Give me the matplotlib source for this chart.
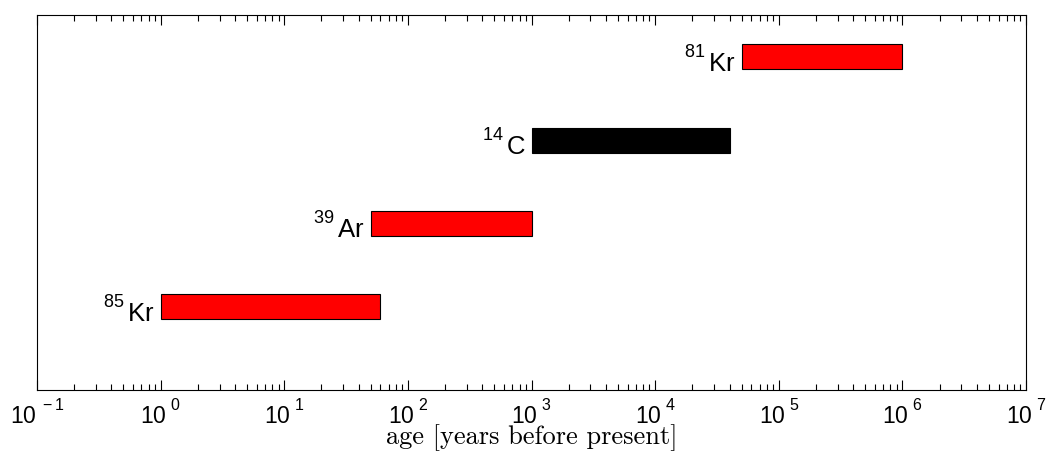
import matplotlib
matplotlib.use("Agg")
import matplotlib.pyplot as plt
from matplotlib.ticker import LogLocator, FixedLocator, NullFormatter
import numpy as np

try:
    import matplotlib._mathtext as _mt
    _mt.FontConstantsBase.sup1 = 1.0
except Exception:
    pass

plt.rcParams['font.family'] = ['Liberation Sans', 'DejaVu Sans']
plt.rcParams['mathtext.fontset'] = 'custom'
plt.rcParams['mathtext.rm'] = 'Liberation Sans'
plt.rcParams['mathtext.it'] = 'Liberation Sans:italic'
plt.rcParams['mathtext.bf'] = 'Liberation Sans:bold'

# Data
isotopes = ['85', '39', '14', '81']
elements = ['Kr', 'Ar', 'C', 'Kr']
age_start = [1, 50, 1000, 50000]
age_end = [60, 1000, 40000, 1000000]
bar_colors = ['#ff0000', '#ff0000', '#000000', '#ff0000']
rows = [1, 2, 3, 4]
tick_exponents = [-1, 0, 1, 2, 3, 4, 5, 6, 7]

fig = plt.figure(figsize=(10.46, 4.54), dpi=100)
ax = fig.add_axes([37/1046, 1 - 390/454, (1026 - 37)/1046, (390 - 15)/454])

for iso, el, s, e, c, r in zip(isotopes, elements, age_start, age_end, bar_colors, rows):
    ax.barh(r, e - s, left=s, height=0.3, color=c, edgecolor='black', linewidth=0.8)
    ax.annotate(r'$^{%s}\,$%s' % (iso, el), xy=(s, r), xytext=(-4, -10.5), textcoords='offset points',
                ha='right', va='baseline', fontsize=18.5)

ax.set_xscale('log')
ax.set_xlim(0.1, 1e7)
ax.set_ylim(0, 4.5)
ax.set_yticks([])
ax.xaxis.set_major_locator(FixedLocator([10.0 ** k for k in tick_exponents]))
ax.set_xticklabels([r'10$^{\ %d}$' % k for k in tick_exponents], fontsize=16.5)
ax.xaxis.set_minor_locator(LogLocator(base=10, subs=np.arange(2, 10), numticks=100))
ax.xaxis.set_minor_formatter(NullFormatter())
ax.tick_params(axis='x', which='both', direction='in', top=True, bottom=True, width=0.8, pad=7)
ax.tick_params(axis='x', which='major', length=7)
ax.tick_params(axis='x', which='minor', length=4)
for sp in ax.spines.values():
    sp.set_linewidth(0.8)

ax.set_xlabel('age [years before present]', fontsize=19, family='cmr10')
ax.xaxis.set_label_coords(0.5, -(444 - 390) / 375)
ax.xaxis.label.set_va('baseline')

fig.savefig('out.png', dpi=100)
